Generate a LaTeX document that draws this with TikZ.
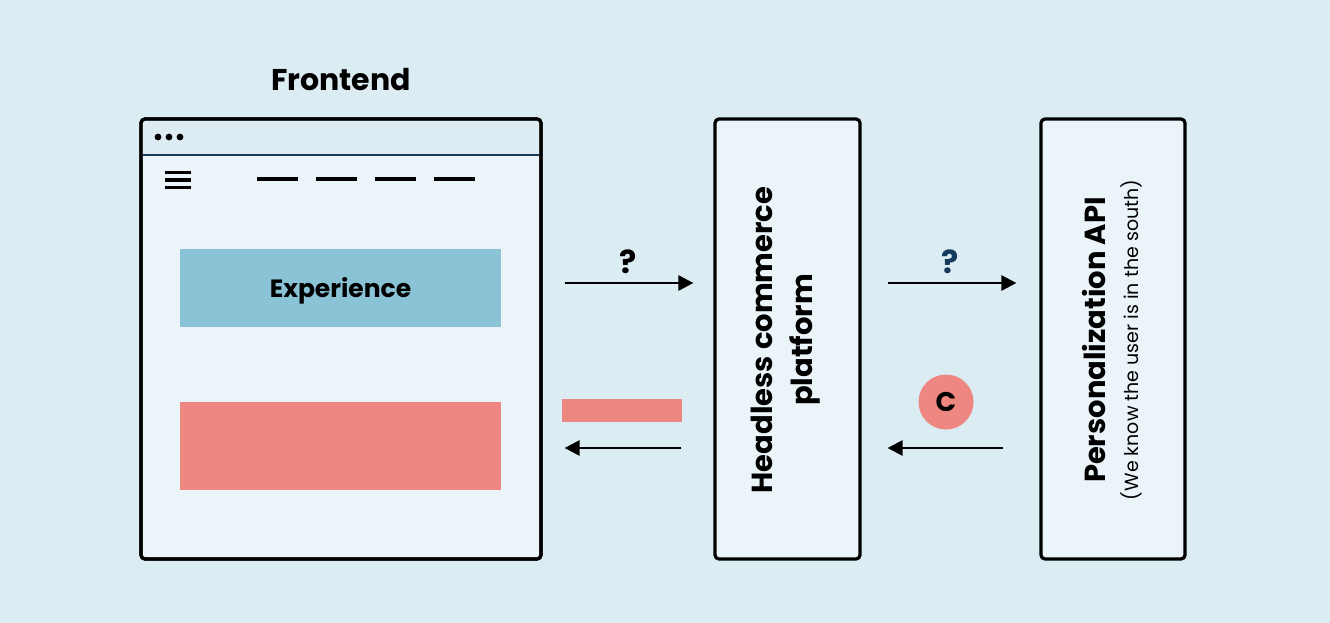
\documentclass[tikz,border=0pt]{standalone}
\usepackage{fontspec}
\setmainfont{Poppins}
\usepackage{xcolor}
\usetikzlibrary{positioning, arrows.meta, calc}

\definecolor{bgblue}{RGB}{219,236,242}
\definecolor{paneblue}{RGB}{235,244,248}
\definecolor{barblue}{RGB}{221,236,242}
\definecolor{navy}{RGB}{22,58,92}
\definecolor{expblue}{RGB}{138,194,214}
\definecolor{salmon}{RGB}{238,135,130}

\begin{document}
\begin{tikzpicture}[
  x=1pt, y=-1pt,
  >={Triangle[length=15pt, width=15pt]},
  box/.style={draw=black, line width=3.2pt, rounded corners=4pt, fill=paneblue, inner sep=0pt},
  arr/.style={->, line width=2.8pt},
  lbl/.style={font=\fontsize{32}{36}\selectfont\bfseries},
  rot/.style={rotate=90, align=center}
]
% background
\fill[bgblue] (0,0) rectangle (1330,623);

% frontend window
\node[box, minimum width=400pt, minimum height=440pt] (fe) at (341,339) {};
\begin{scope}
  \clip[rounded corners=3pt] (142.6,120.6) rectangle (539.4,557.4);
  \fill[barblue] (142,120) rectangle (540,155);
\end{scope}
\draw[navy, line width=2.6pt] (142.6,155) -- (539.4,155);
\draw[black, line width=3.2pt, rounded corners=4pt] (141,119) rectangle (541,559);
\node[font=\fontsize{30}{34}\selectfont\bfseries] (title) at (341,80) {Frontend};
\foreach \x in {158,169,180}
  \fill (\x,137) circle (3.4pt);
\foreach \y in {172.5,180,187.5}
  \draw[line width=3.3pt] (165,\y) -- (191,\y);
\foreach \x in {257,316,375,434}
  \draw[line width=3.2pt] (\x,179) -- ++(41,0);
\node[fill=expblue, minimum width=321pt, minimum height=78pt, inner sep=0pt] (exp) at (340.5,288) {};
\node[font=\fontsize{25}{30}\selectfont\bfseries] (exptext) at (340.5,291) {Experience};
\node[fill=salmon, minimum width=321pt, minimum height=88pt, inner sep=0pt] (res) at (340.5,446) {};

% headless commerce platform
\node[box, minimum width=145pt, minimum height=440pt] (hc) at (787.5,339) {};
\node[rot, font=\fontsize{29}{40}\selectfont\bfseries] (hctext) at (786,340)
  {Headless commerce\\platform};

% personalization api
\node[box, minimum width=144pt, minimum height=440pt] (api) at (1113,339) {};
\node[rot, font=\fontsize{29}{34}\selectfont\bfseries] (apitext) at (1094,340)
  {Personalization API};
\node[rot, font=\fontsize{19}{23}\selectfont] (apisub) at (1131,340)
  {(We know the user is in the south)};

% requests
\coordinate (req) at (0,283);
\coordinate (resp) at (0,448);
\draw[arr, shorten <=22pt, shorten >=20pt] (fe.east |- req) -- (hc.west |- req)
  node[midway, above=5pt, lbl] (q1) {?};
\draw[arr, shorten <=26pt, shorten >=23pt] (hc.east |- req) -- (api.west |- req)
  node[midway, above=5pt, lbl, text=navy] (q2) {?};

% responses
\draw[arr, shorten <=36pt, shorten >=26pt] (api.west |- resp) -- (hc.east |- resp);
\draw[arr, shorten <=32pt, shorten >=22pt] (hc.west |- resp) -- (fe.east |- resp);
\node[fill=salmon, minimum width=120pt, minimum height=23pt, inner sep=0pt] (chunk) at (622,410.5) {};
\node[circle, fill=salmon, minimum size=55pt, inner sep=0pt,
  font=\fontsize{27}{30}\selectfont\bfseries] (cmark) at (946,402) {C};
\end{tikzpicture}
\end{document}
